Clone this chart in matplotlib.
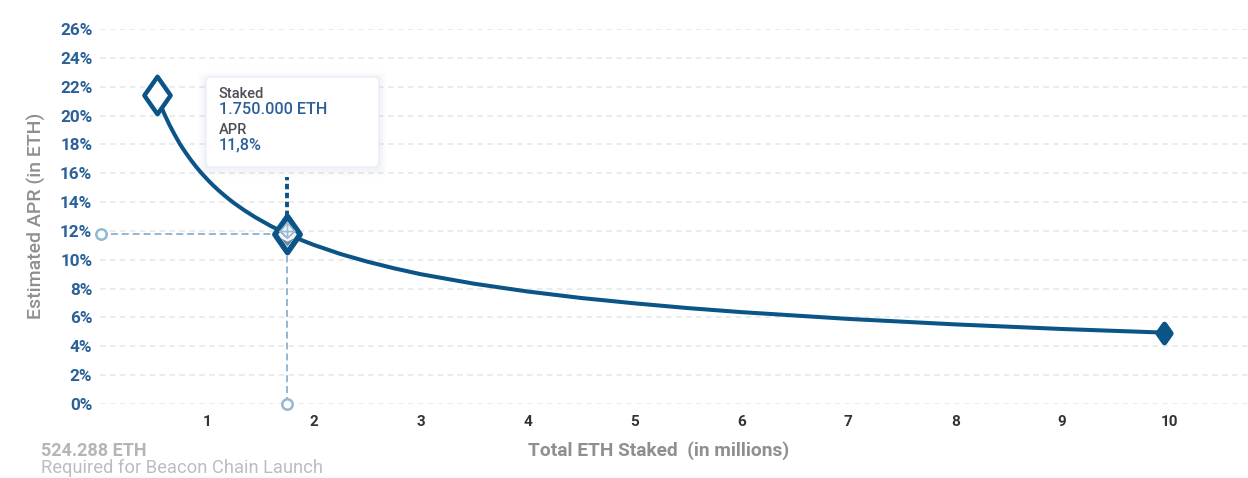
import matplotlib
matplotlib.use('Agg')
import matplotlib.pyplot as plt
from matplotlib.path import Path
from matplotlib.markers import MarkerStyle
from matplotlib.patches import FancyBboxPatch

# total staked in millions of ETH and the resulting APR in percent
staked = [0.53, 0.56, 0.6, 0.65, 0.7, 0.75, 0.8, 0.85, 0.9, 0.95, 1.0, 1.05, 1.1, 1.15, 1.2, 1.25, 1.35, 1.45, 1.6,
          1.75, 1.9, 2.0, 2.25, 2.5, 2.75, 3.0, 3.5, 4.0, 4.5, 5.0, 5.5, 6.0, 7.0, 8.0, 9.0, 9.95]
apr = [21.4, 20.85, 20.14, 19.35, 18.65, 18.0, 17.44, 16.92, 16.44, 16.0, 15.6, 15.22, 14.87, 14.55, 14.24, 13.95, 13.43, 12.96, 12.33,
       11.8, 11.32, 11.03, 10.4, 9.87, 9.41, 9.0, 8.34, 7.8, 7.35, 6.98, 6.65, 6.37, 5.9, 5.52, 5.2, 4.95]

selected_x = 1.75
selected_y = 11.8
tooltip_bottom = 15.75

y_ticks = list(range(0, 28, 2))
y_labels = [f'{v}%' for v in y_ticks]
x_ticks = list(range(1, 11))

BLUE = '#0b5487'
LABEL_BLUE = '#2b6199'
GUIDE = '#93b8d3'
GRID = '#e4e6e8'
GREY = '#8f8f8f'

W, H = 1248, 478
plt.rcParams['font.family'] = ['Roboto', 'DejaVu Sans']

fig = plt.figure(figsize=(W / 100, H / 100), dpi=100)
ax = fig.add_axes([100 / W, 1 - 404 / H, 1148 / W, 375 / H])
ax.set_xlim(0, 1148 / 106.9)
ax.set_ylim(0, 26)
for s in ax.spines.values():
    s.set_visible(False)
ax.patch.set_visible(False)

ax.set_yticks(y_ticks)
ax.set_yticklabels(y_labels, color=LABEL_BLUE, fontsize=12.3, fontweight='bold')
ax.set_xticks(x_ticks)
ax.set_xticklabels(x_ticks, color='#333333', fontsize=11, fontweight='bold')
ax.tick_params(axis='both', length=0)
ax.tick_params(axis='y', pad=5.5)
ax.tick_params(axis='x', pad=8)
ax.grid(axis='y', color=GRID, lw=1.1, dashes=(3.6, 2.9))
ax.set_axisbelow(True)

# guide lines from the selected point to both axes
ax.plot([0, selected_x], [selected_y, selected_y], color=GUIDE, lw=1.4, dashes=(3.6, 2), zorder=2)
ax.plot([selected_x, selected_x], [0, selected_y], color=GUIDE, lw=1.4, dashes=(3.6, 2), zorder=2)
ax.plot([0.01, selected_x], [selected_y, 0], ls='none', marker='o', ms=7.5, mfc='white', mec=GUIDE, mew=1.8, zorder=3, clip_on=False)
ax.plot([selected_x, selected_x], [selected_y, tooltip_bottom], color=BLUE, lw=2.8, dashes=(1.4, 0.9), zorder=3)

ax.plot(staked, apr, color=BLUE, lw=2.9, solid_capstyle='round', zorder=4)

diamond = Path([(0, 1), (0.7, 0), (0, -1), (-0.7, 0), (0, 1)], closed=True)
ax.plot(staked[0], apr[0], marker=MarkerStyle(diamond, joinstyle='round'), ms=27, mfc='white', mec=BLUE, mew=3.2, zorder=5)
ax.plot(selected_x, selected_y, marker=MarkerStyle(diamond, joinstyle='round'), ms=26, mfc='#f4f8fb', mec=BLUE, mew=4, zorder=5)
ax.plot(staked[-1], apr[-1], marker=MarkerStyle(diamond, joinstyle='round'), ms=13, mfc=BLUE, mec=BLUE, mew=4, zorder=5)

# ether logo inside the selected marker
logo_top = Path([(0, 1), (0.62, 0.25), (0, -0.3), (-0.62, 0.25), (0, 1), (0, -0.3), (-0.62, 0.25), (0.62, 0.25)])
logo_bottom = Path([(-0.6, -0.3), (0, -0.6), (0.6, -0.3), (0, -1), (-0.6, -0.3)], closed=True)
ax.plot(selected_x, selected_y, marker=MarkerStyle(logo_top, joinstyle='round'), ms=17, mfc='none', mec='#9dbad1', mew=1.2, zorder=6)
ax.plot(selected_x, selected_y, marker=MarkerStyle(logo_bottom, joinstyle='round'), ms=17, mfc='#6f8ba3', mec='none', zorder=6)

ax.set_ylabel('Estimated APR (in ETH)', color=GREY, fontsize=14, fontweight='medium')
ax.yaxis.set_label_coords((46 - 100) / 1148, (404 - 216) / 375)

fig.text(659 / W, 1 - 450.5 / H, 'Total ETH Staked  (in millions)', color=GREY, fontsize=13.8,
         fontweight='bold', ha='center', va='center')
fig.text(41 / W, 1 - 450.5 / H, '524.288 ETH', color='#b5b5b5', fontsize=13, fontweight='bold', va='center')
fig.text(41 / W, 1 - 467.5 / H, 'Required for Beacon Chain Launch', color='#bdbdbd', fontsize=13.2, va='center')

# tooltip card with a soft shadow, placed in figure pixels
def card(x0, y0, x1, y1, **kw):
    p = FancyBboxPatch((x0, H - y1), x1 - x0, y1 - y0, boxstyle='round,pad=0,rounding_size=5',
                       transform=None, **kw)
    p.set_transform(fig.dpi_scale_trans.inverted().frozen() + fig.dpi_scale_trans)
    fig.add_artist(p)

for grow, alpha in [(8, 0.01), (6, 0.014), (4, 0.018), (2, 0.022)]:
    card(206 - grow, 77 - grow + 2, 379 + grow, 167 + grow + 2, fc='#5a6a8a', ec='none', alpha=alpha, zorder=7)
card(206, 77, 379, 167, fc='white', ec='#e8edf9', lw=1, zorder=8)

fig.text(219 / W, 1 - 94.5 / H, 'Staked', color='#4a4f55', fontsize=10.5, fontweight='medium', va='center', zorder=9)
fig.text(219 / W, 1 - 109.5 / H, '1.750.000 ETH', color=LABEL_BLUE, fontsize=11.7, fontweight='medium', va='center', zorder=9)
fig.text(219 / W, 1 - 130.5 / H, 'APR', color='#4a4f55', fontsize=10.5, fontweight='medium', va='center', zorder=9)
fig.text(219 / W, 1 - 145 / H, '11,8%', color=LABEL_BLUE, fontsize=11.7, fontweight='medium', va='center', zorder=9)

fig.savefig('out.png', dpi=100)
